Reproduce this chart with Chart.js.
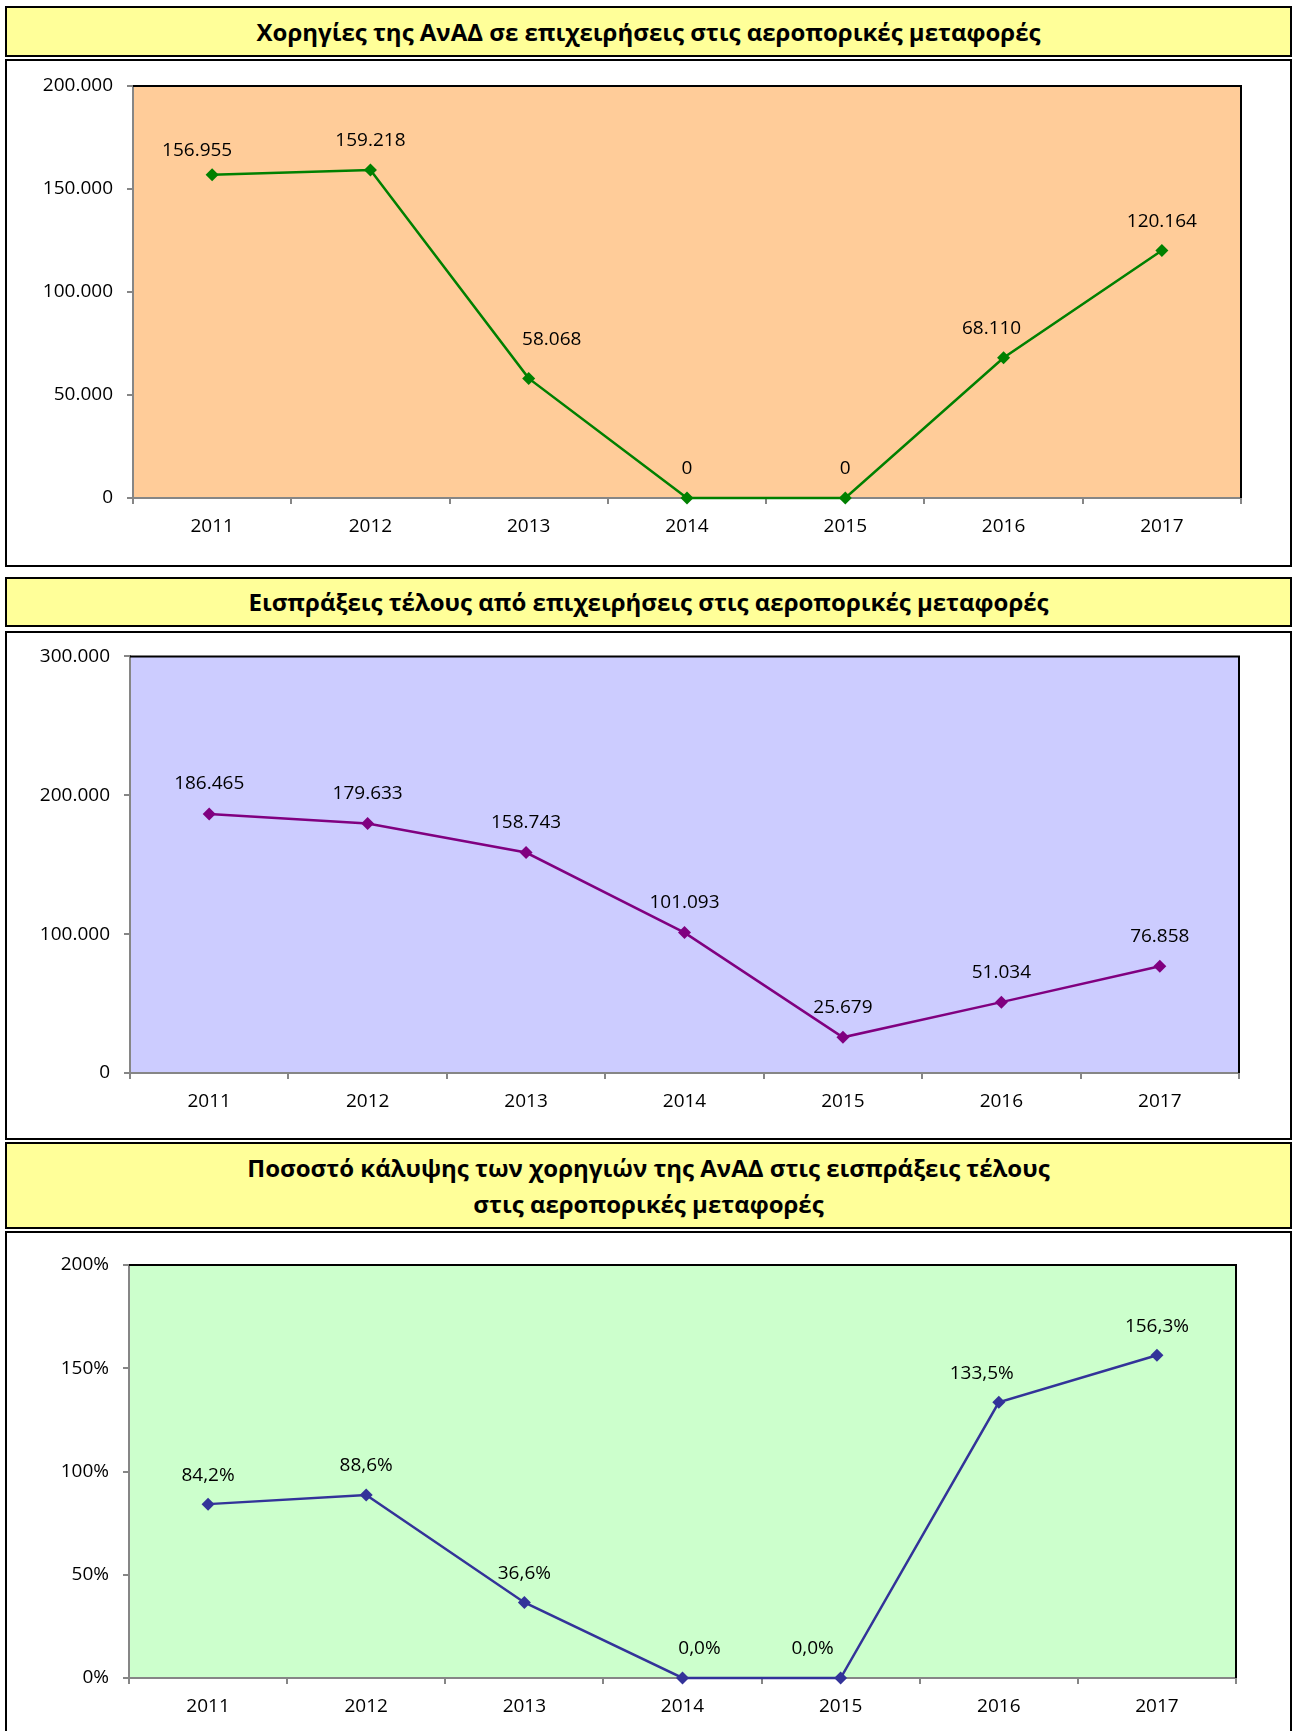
<!DOCTYPE html>
<html lang="el">
<head>
<meta charset="utf-8">
<title>Χορηγίες και εισπράξεις τέλους στις αεροπορικές μεταφορές</title>
<script src="https://cdn.jsdelivr.net/npm/chart.js@4.4.1/dist/chart.umd.min.js"></script>
<style>
  body { margin: 0; background: #fff; width: 1292px; height: 1731px; position: relative; overflow: hidden; font-family: "Open Sans", sans-serif; }
  .title, .box { position: absolute; left: 5px; width: 1287px; box-sizing: border-box; border: 2px solid #000; }
  .title { background: #ffff99; display: flex; align-items: center; justify-content: center; text-align: center;
           font-weight: bold; font-size: 24px; line-height: 36px; color: #000; }
  .box { background: #fff; }
  canvas { position: absolute; left: 0; }
</style>
</head>
<body>
<div class="title" style="top:6px;height:51px">Χορηγίες της ΑνΑΔ σε επιχειρήσεις στις αεροπορικές μεταφορές</div>
<div class="box" style="top:59px;height:508px"></div>
<canvas id="chart1" width="1292" height="508" style="top:59px"></canvas>

<div class="title" style="top:577px;height:50px">Εισπράξεις τέλους από επιχειρήσεις στις αεροπορικές μεταφορές</div>
<div class="box" style="top:631px;height:509px"></div>
<canvas id="chart2" width="1292" height="509" style="top:631px"></canvas>

<div class="title" style="top:1142px;height:87px">Ποσοστό κάλυψης των χορηγιών της ΑνΑΔ στις εισπράξεις τέλους<br>στις αεροπορικές μεταφορές</div>
<div class="box" style="top:1231px;height:520px"></div>
<canvas id="chart3" width="1292" height="500" style="top:1231px"></canvas>

<script>
// Δεδομένα
const years = ['2011', '2012', '2013', '2014', '2015', '2016', '2017'];
const subsidies = [156955, 159218, 58068, 0, 0, 68110, 120164];
const feeReceipts = [186465, 179633, 158743, 101093, 25679, 51034, 76858];
const coveragePct = [84.2, 88.6, 36.6, 0.0, 0.0, 133.5, 156.3];

const FONT = '"Open Sans", sans-serif';

// μορφή αριθμών όπως στα ελληνικά (τελεία για χιλιάδες, κόμμα για δεκαδικά)
function fmtThousands(v) {
    return String(Math.round(v)).replace(/\B(?=(\d{3})+(?!\d))/g, '.');
}
function fmtPct(v) {
    return v.toFixed(1).replace('.', ',') + '%';
}

// φόντο και πλαίσιο της περιοχής σχεδίασης
function plotFrame(bg) {
    return {
        id: 'plotFrame',
        beforeDraw(chart) {
            const a = chart.chartArea, ctx = chart.ctx;
            ctx.save();
            ctx.fillStyle = bg;
            ctx.fillRect(a.left, a.top, a.right - a.left, a.bottom - a.top);
            ctx.restore();
        },
        afterDatasetsDraw(chart) {
            const a = chart.chartArea, ctx = chart.ctx;
            ctx.save();
            ctx.strokeStyle = '#000';
            ctx.lineWidth = 2;
            ctx.beginPath();
            ctx.moveTo(a.left, a.top);
            ctx.lineTo(a.right, a.top);
            ctx.lineTo(a.right, a.bottom);
            ctx.stroke();
            ctx.restore();
        }
    };
}

// ετικέτες τιμών πάνω από τα σημεία
function pointLabels(fmt, dy, nudge) {
    return {
        id: 'pointLabels',
        afterDatasetsDraw(chart) {
            const ctx = chart.ctx;
            const ds = chart.data.datasets[0];
            const meta = chart.getDatasetMeta(0);
            ctx.save();
            ctx.font = '19px ' + FONT;
            ctx.fillStyle = '#000';
            ctx.textAlign = 'center';
            ctx.textBaseline = 'middle';
            meta.data.forEach((pt, i) => {
                const n = nudge[i] || [0, 0];
                ctx.fillText(fmt(ds.data[i]), pt.x + n[0], pt.y - dy + n[1]);
            });
            ctx.restore();
        }
    };
}

function makeChart(id, values, color, bg, opts) {
    new Chart(document.getElementById(id), {
        type: 'line',
        data: {
            labels: years,
            datasets: [{
                data: values,
                borderColor: color,
                backgroundColor: color,
                borderWidth: 2.5,
                tension: 0,
                pointStyle: 'rectRot',
                pointRadius: 6.5,
                pointBorderWidth: 0,
                pointBackgroundColor: color,
                clip: false
            }]
        },
        options: {
            responsive: false,
            animation: false,
            events: [],
            layout: { padding: { left: 0, right: 1292 - opts.right, top: opts.padTop, bottom: opts.padBottom } },
            plugins: { legend: { display: false }, tooltip: { enabled: false } },
            scales: {
                x: {
                    type: 'category',
                    offset: true,
                    afterFit(scale) { scale.height = 40; },
                    grid: { offset: true, drawOnChartArea: false, drawTicks: true, tickLength: 6, color: '#868686', lineWidth: 2 },
                    border: { display: true, color: '#868686', width: 2 },
                    ticks: { color: '#000', padding: 11, font: { family: FONT, size: 19 }, maxRotation: 0 }
                },
                y: {
                    min: 0,
                    max: opts.max,
                    afterFit(scale) { scale.width = opts.left; },
                    grid: { drawOnChartArea: false, drawTicks: true, tickLength: 6, color: '#868686', lineWidth: 2 },
                    border: { display: true, color: '#868686', width: 2 },
                    ticks: { stepSize: opts.step, color: '#000', padding: 14, font: { family: FONT, size: 19 }, callback: opts.tick }
                }
            }
        },
        plugins: [plotFrame(bg), pointLabels(opts.fmt, opts.dy, opts.nudge)]
    });
}

makeChart('chart1', subsidies, '#008000', '#ffcc99', {
    left: 133, right: 1241, padTop: 27, padBottom: 29,
    max: 200000, step: 50000, tick: v => fmtThousands(v),
    fmt: fmtThousands, dy: 29,
    nudge: { 0: [-15, 5], 2: [23, -10], 5: [-12, 0] }
});

makeChart('chart2', feeReceipts, '#800080', '#ccccff', {
    left: 130, right: 1239, padTop: 24, padBottom: 27,
    max: 300000, step: 100000, tick: v => fmtThousands(v),
    fmt: fmtThousands, dy: 30,
    nudge: {}
});

makeChart('chart3', coveragePct, '#333399', '#ccffcc', {
    left: 129, right: 1236, padTop: 34, padBottom: 13,
    max: 200, step: 50, tick: v => v + '%',
    fmt: fmtPct, dy: 29,
    nudge: { 3: [17, 0], 4: [-28, 0], 5: [-17, 0] }
});
</script>
</body>
</html>
